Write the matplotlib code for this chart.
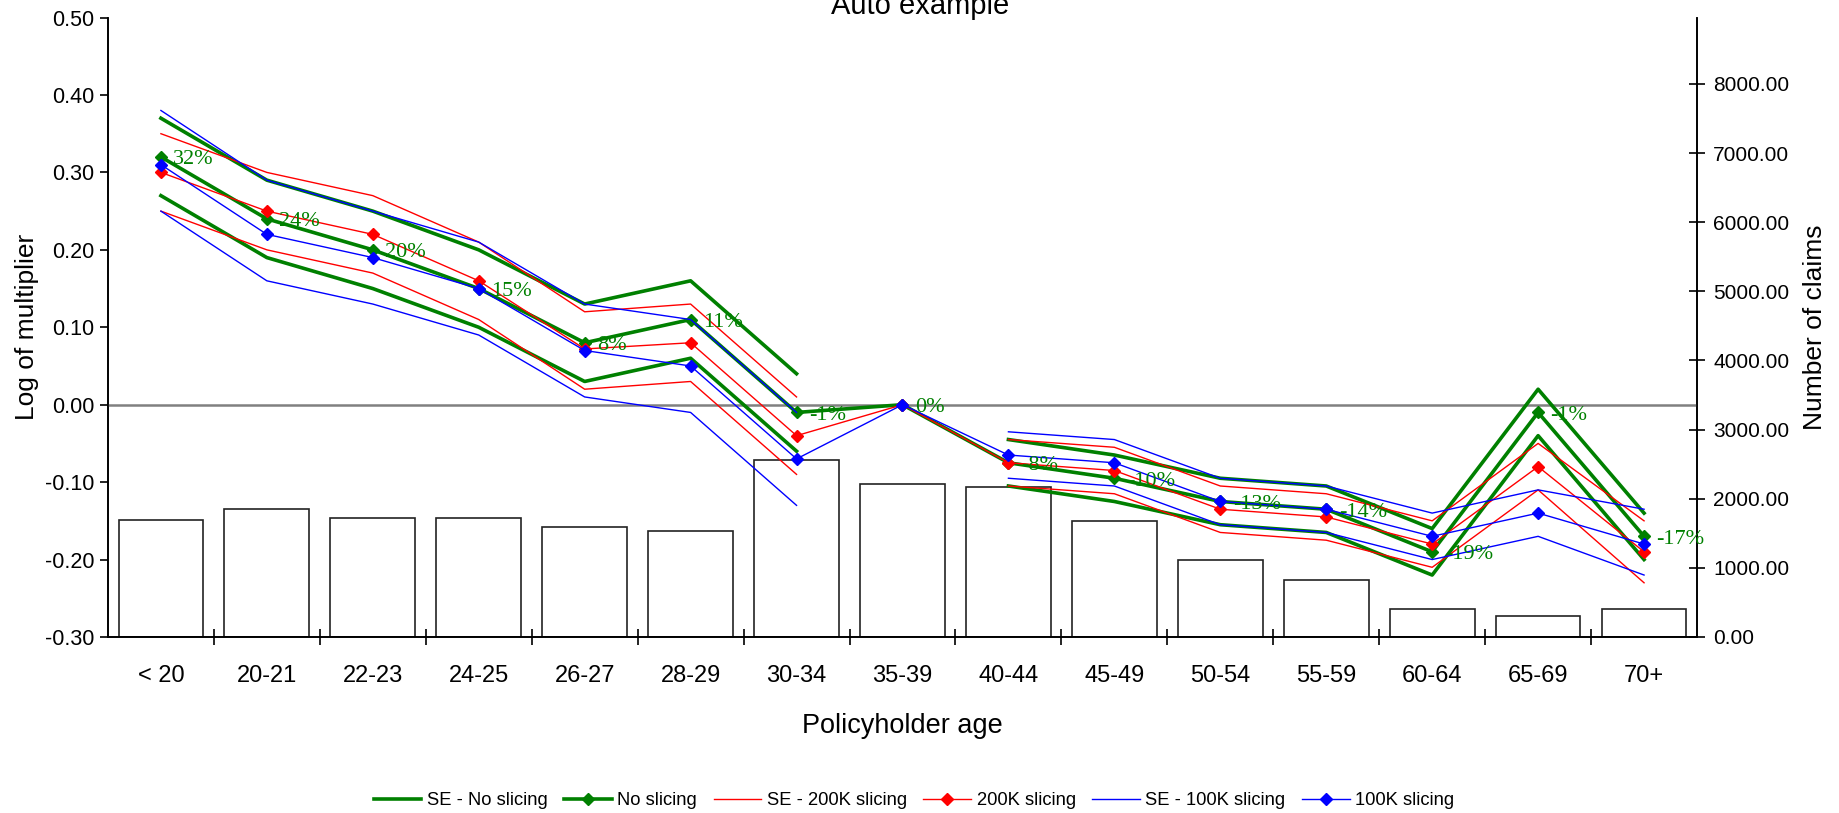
import numpy as np
import matplotlib.pyplot as plt

nan = np.nan

ages = ["< 20", "20-21", "22-23", "24-25", "26-27", "28-29", "30-34", "35-39",
        "40-44", "45-49", "50-54", "55-59", "60-64", "65-69", "70+"]
claims = [1693, 1857, 1727, 1717, 1587, 1529, 2557, 2210, 2175, 1683, 1110, 821, 401, 304, 401]

# log multipliers and +/- standard error bands
no_slice = [0.32, 0.24, 0.20, 0.15, 0.08, 0.11, -0.01, 0.00, -0.075, -0.095, -0.125, -0.135, -0.19, -0.01, -0.17]
no_slice_hi = [0.37, 0.29, 0.25, 0.20, 0.13, 0.16, 0.04, nan, -0.045, -0.065, -0.095, -0.105, -0.16, 0.02, -0.14]
no_slice_lo = [0.27, 0.19, 0.15, 0.10, 0.03, 0.06, -0.06, nan, -0.105, -0.125, -0.155, -0.165, -0.22, -0.04, -0.20]

s200 = [0.30, 0.25, 0.22, 0.16, 0.072, 0.08, -0.04, 0.00, -0.075, -0.085, -0.135, -0.145, -0.18, -0.08, -0.19]
s200_hi = [0.35, 0.30, 0.27, 0.21, 0.12, 0.13, 0.01, nan, -0.045, -0.055, -0.105, -0.115, -0.15, -0.05, -0.15]
s200_lo = [0.25, 0.20, 0.17, 0.11, 0.02, 0.03, -0.09, nan, -0.105, -0.115, -0.165, -0.175, -0.21, -0.11, -0.23]

s100 = [0.31, 0.22, 0.19, 0.15, 0.07, 0.05, -0.07, 0.00, -0.065, -0.075, -0.125, -0.135, -0.17, -0.14, -0.18]
s100_hi = [0.38, 0.29, 0.25, 0.21, 0.13, 0.11, -0.01, nan, -0.035, -0.045, -0.095, -0.105, -0.14, -0.11, -0.135]
s100_lo = [0.25, 0.16, 0.13, 0.09, 0.01, -0.01, -0.13, nan, -0.095, -0.105, -0.155, -0.165, -0.20, -0.17, -0.22]

pct_labels = ["32%", "24%", "20%", "15%", "8%", "11%", "-1%", "0%", "-8%", "-10%",
              "-13%", "-14%", "-19%", "-1%", "-17%"]

plt.rcParams['font.family'] = ['Liberation Sans', 'DejaVu Sans']

green = "#008000"
red = "#FF0000"
blue = "#0000FF"

fig = plt.figure(figsize=(18.39, 8.13), dpi=100)
ax = fig.add_axes([0.0587, 0.2165, 0.8641, 0.7619])
ax2 = ax.twinx()
ax.set_zorder(ax2.get_zorder() + 1)
ax.patch.set_visible(False)

x = np.arange(len(ages))

# claim counts as bars on the right axis
ax2.bar(x, claims, width=0.8, facecolor="white", edgecolor="#222222", linewidth=1.2)
ax2.set_ylim(0, 8960)
ax2.set_yticks(np.arange(0, 8001, 1000))
ax2.set_yticklabels([f"{v:.2f}" for v in np.arange(0, 8001, 1000)], fontsize=15)
ax2.tick_params(axis='y', direction='inout', length=11, width=1.2, pad=6)
ax2.set_ylabel("Number of claims", fontsize=19, labelpad=10)

ax.axhline(0, color="#808080", linewidth=1.8, zorder=1)

l1, = ax.plot(x, no_slice_hi, color=green, lw=2.6, label="SE - No slicing")
ax.plot(x, no_slice_lo, color=green, lw=2.6)
l2, = ax.plot(x, no_slice, color=green, lw=2.6, marker="D", ms=6.5, label="No slicing")
l3, = ax.plot(x, s200_hi, color=red, lw=1.0, label="SE - 200K slicing")
ax.plot(x, s200_lo, color=red, lw=1.0)
l4, = ax.plot(x, s200, color=red, lw=1.0, marker="D", ms=6.5, label="200K slicing")
l5, = ax.plot(x, s100_hi, color=blue, lw=1.0, label="SE - 100K slicing")
ax.plot(x, s100_lo, color=blue, lw=1.0)
l6, = ax.plot(x, s100, color=blue, lw=1.0, marker="D", ms=6.5, label="100K slicing")

for xi, yi, txt in zip(x, no_slice, pct_labels):
    ax.annotate(txt, (xi, yi), xytext=(9, -2), textcoords="offset points",
                ha="left", va="center", color=green, fontsize=16,
                family="Liberation Serif", zorder=10)

ax.set_xlim(-0.5, len(ages) - 0.5)
ax.set_ylim(-0.3, 0.5)
ax.set_yticks(np.arange(-0.3, 0.51, 0.1))
ax.set_yticklabels([f"{v:.2f}" for v in np.arange(-0.3, 0.51, 0.1)], fontsize=15.5)
ax.tick_params(axis='y', direction='out', length=6, width=1.2, pad=4)
ax.set_ylabel("Log of multiplier", fontsize=19, labelpad=4)

ax.set_xticks(x)
ax.set_xticklabels(ages, fontsize=17)
ax.set_xticks(np.arange(0.5, len(ages) - 1, 1), minor=True)
ax.tick_params(axis='x', which='major', length=0, pad=20)
ax.tick_params(axis='x', which='minor', direction='inout', length=12, width=1.2)
ax.set_xlabel("Policyholder age", fontsize=19.5, labelpad=19)

for a in (ax, ax2):
    a.spines['top'].set_visible(False)
    for s in ('left', 'right', 'bottom'):
        a.spines[s].set_linewidth(1.2)

fig.text(0.5003, 1 - 14 / 813, "Auto example", ha="center", va="baseline", fontsize=21)

fig.legend(handles=[l1, l2, l3, l4, l5, l6], loc="center", bbox_to_anchor=(0.497, 0.015),
           ncol=6, frameon=False, fontsize=13.2, handlelength=2.6, handletextpad=0.3,
           columnspacing=0.9)

fig.savefig("out.png", dpi=100)
